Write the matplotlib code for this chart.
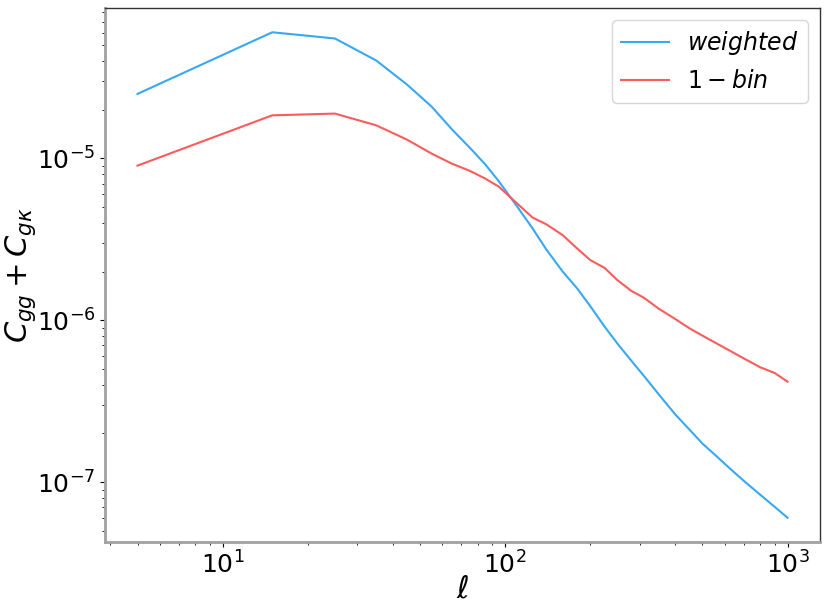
#!/usr/bin/env python3
"""Galaxy clustering + lensing cross spectra: weighted vs single bin."""

import matplotlib

matplotlib.use("Agg")
import matplotlib.pyplot as plt
import numpy as np

ELL = [5, 15, 25, 35, 45, 55, 65, 75, 85, 95, 110, 125, 140, 160, 180, 200,
       225, 250, 280, 310, 350, 400, 450, 500, 560, 630, 700, 800, 900, 1000]

WEIGHTED = [2.505e-5, 6.02e-5, 5.51e-5, 4.03e-5, 2.86e-5, 2.09e-5, 1.507e-5,
            1.166e-5, 9.22e-6, 7.24e-6, 5.09e-6, 3.71e-6, 2.74e-6, 2.00e-6,
            1.575e-6, 1.228e-6, 9.16e-7, 7.18e-7, 5.63e-7, 4.54e-7, 3.49e-7,
            2.63e-7, 2.11e-7, 1.73e-7, 1.45e-7, 1.20e-7, 1.02e-7, 8.37e-8,
            7.05e-8, 6.03e-8]

ONE_BIN = [9.03e-6, 1.847e-5, 1.893e-5, 1.602e-5, 1.307e-5, 1.071e-5, 9.27e-6,
           8.39e-6, 7.52e-6, 6.70e-6, 5.30e-6, 4.32e-6, 3.92e-6, 3.36e-6,
           2.78e-6, 2.36e-6, 2.11e-6, 1.77e-6, 1.52e-6, 1.38e-6, 1.18e-6,
           1.02e-6, 8.92e-7, 8.04e-7, 7.21e-7, 6.44e-7, 5.82e-7, 5.13e-7,
           4.73e-7, 4.18e-7]

BLUE = "#38a8f0"
RED = "#fa5c5c"


def main() -> None:
    fig = plt.figure(figsize=(8.3, 6.11), dpi=100)
    ax = fig.add_axes([105 / 830, 1 - 542 / 611, 715 / 830, 534 / 611])

    ax.loglog(ELL, WEIGHTED, color=BLUE, linewidth=1.5, label=r"$weighted$")
    ax.loglog(ELL, ONE_BIN, color=RED, linewidth=1.5, label=r"$1-bin$")

    ax.set_xlabel(r"$\ell$", fontsize=22, labelpad=-3)
    ax.set_ylabel(r"$C_{gg} + C_{g\kappa}$", fontsize=22, labelpad=-1)
    ax.tick_params(axis="both", which="major", labelsize=18)
    ax.legend(fontsize=17, loc="upper right")

    for side in ("left", "bottom"):
        ax.spines[side].set_color("#a0a0a0")
        ax.spines[side].set_linewidth(2.0)
    for side in ("top", "right"):
        ax.spines[side].set_color("#333333")
        ax.spines[side].set_linewidth(1.0)

    fig.savefig("out.png")
    plt.close(fig)


if __name__ == "__main__":
    main()
